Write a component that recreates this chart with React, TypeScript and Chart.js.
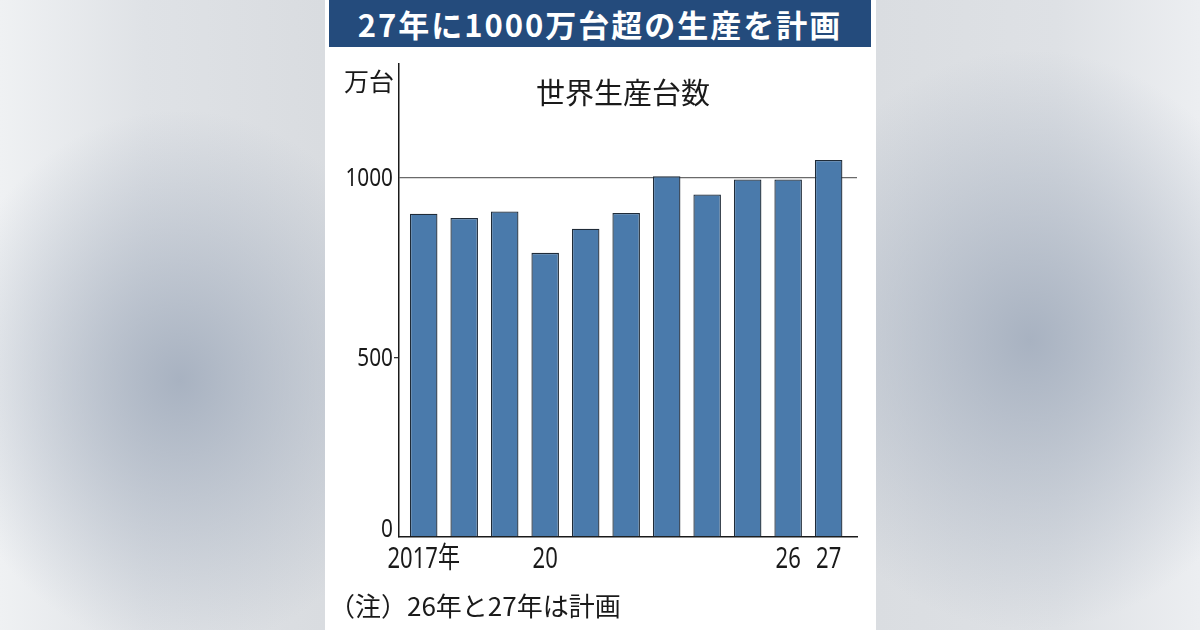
import React, { useEffect, useRef } from 'react';
import { Chart, registerables } from 'chart.js';

Chart.register(...registerables);

const years = ['2017', '2018', '2019', '2020', '2021', '2022', '2023', '2024', '2025', '2026', '2027'];
const production = [899, 887, 905, 790, 857, 901, 1003, 952, 994, 994, 1048];
const xTickLabels = ['2017年', '', '', '20', '', '', '', '', '', '26', '27'];
const xTickIndexes = [0, 3, 9, 10];
const yTickValues = [0, 500, 1000];

const titleText = '27年に1000万台超の生産を計画';
const subtitleText = '世界生産台数';
const unitText = '万台';
const noteText = '（注）26年と27年は計画';

const DIGITS = '"Noto Sans", "Noto Sans CJK JP", sans-serif';
const CJK = '"Noto Sans CJK JP", sans-serif';

const labelPlugin = {
  id: 'condensedLabels',
  afterDraw(chart: any) {
    const ys = chart.scales.y;
    const xs = chart.scales.x;
    const area = chart.chartArea;
    const ctx = chart.ctx;
    ctx.save();
    ctx.fillStyle = '#1a1a1a';
    // y labels
    ctx.font = '26px ' + DIGITS;
    ctx.textAlign = 'right';
    for (const t of ys.ticks) {
      const py = ys.getPixelForValue(t.value);
      ctx.save();
      if (t.value === 0) {
        ctx.textBaseline = 'alphabetic';
        ctx.translate(area.left - 6, py - 0.5);
      } else {
        ctx.textBaseline = 'middle';
        ctx.translate(area.left - 6, py + 1);
      }
      ctx.scale(0.8, 1);
      ctx.fillText(String(t.value), 0, 0);
      ctx.restore();
    }
    // x labels
    ctx.font = '29px ' + DIGITS;
    ctx.textAlign = 'center';
    ctx.textBaseline = 'alphabetic';
    for (const t of xs.ticks) {
      const label = years[t.value] !== undefined ? xTickLabels[t.value] : '';
      if (!label) continue;
      const px = xs.getPixelForValue(t.value);
      ctx.save();
      ctx.translate(px, area.bottom + 31);
      ctx.scale(0.76, 1);
      ctx.fillText(label, 0, 0);
      ctx.restore();
    }
    ctx.restore();
  },
};

function BarChart() {
  const ref = useRef<HTMLCanvasElement | null>(null);
  useEffect(() => {
    if (!ref.current) return;
    const chart = new Chart(ref.current, {
      type: 'bar',
      data: {
        labels: years,
        datasets: [
          {
            label: subtitleText,
            data: production.map((v, i) => ({ x: i, y: v })),
            backgroundColor: '#4a7aab',
            borderColor: '#1f2b38',
            borderWidth: 1.3,
            barPercentage: 0.68,
            categoryPercentage: 1,
          },
        ],
      },
      options: {
        responsive: false,
        animation: false,
        devicePixelRatio: 1,
        layout: { padding: { left: 0, right: 19, top: 17, bottom: 0 } },
        plugins: {
          legend: { display: false },
          tooltip: { enabled: false },
          title: { display: false },
        },
        scales: {
          x: {
            type: 'linear',
            min: -0.61,
            max: 10.7,
            offset: false,
            afterBuildTicks: (scale: any) => {
              scale.ticks = xTickIndexes.map((v) => ({ value: v }));
            },
            afterFit: (scale: any) => {
              scale.height = 93;
            },
            grid: { display: false, drawTicks: false },
            border: { display: true, color: '#1a1a1a', width: 1.5 },
            ticks: { display: false },
          },
          y: {
            min: 0,
            max: 1315,
            afterBuildTicks: (scale: any) => {
              scale.ticks = yTickValues.map((v) => ({ value: v }));
            },
            afterFit: (scale: any) => {
              scale.width = 74;
            },
            grid: {
              color: (c: any) => (c.tick && c.tick.value === 1000 ? '#6a6a6a' : 'rgba(0,0,0,0)'),
              tickColor: (c: any) => (c.tick && c.tick.value === 500 ? '#333333' : 'rgba(0,0,0,0)'),
              lineWidth: 1.3,
              tickLength: 5,
              drawTicks: true,
            },
            border: { display: true, color: '#1a1a1a', width: 1.5 },
            ticks: { display: false },
          },
        },
      },
      plugins: [labelPlugin],
    } as any);
    return () => chart.destroy();
  }, []);
  return <canvas ref={ref} width={551} height={583} style={{ display: 'block', width: 551, height: 583 }} />;
}

export default function App() {
  return (
    <div
      style={{
        position: 'absolute',
        left: 0,
        top: 0,
        width: 1200,
        height: 630,
        overflow: 'hidden',
        background:
          'radial-gradient(ellipse 240px 270px at 180px 380px, rgba(168,178,193,1) 0%, rgba(168,178,193,0) 100%),' +
          'radial-gradient(ellipse 260px 290px at 1030px 340px, rgba(168,178,193,1) 0%, rgba(168,178,193,0) 100%),' +
          'linear-gradient(90deg, #eff1f3 0%, #dfe2e6 12%, #d9dce0 27%, #dadde1 73%, #dee1e5 88%, #eceef1 100%)',
      }}
    >
      <div
        style={{
          position: 'absolute',
          left: 325,
          top: 0,
          width: 551,
          height: 630,
          background: '#ffffff',
        }}
      >
        <div
          style={{
            position: 'absolute',
            left: 4,
            top: 0,
            width: 542,
            height: 47,
            background: '#244b7c',
            color: '#ffffff',
            fontFamily: CJK,
            fontWeight: 700,
            fontSize: 31,
            letterSpacing: 2,
            lineHeight: '47px',
            textAlign: 'center',
            whiteSpace: 'nowrap',
          }}
        >
          {titleText}
        </div>
        <div style={{ position: 'absolute', left: 0, top: 47 }}>
          <BarChart />
        </div>
        <div
          style={{
            position: 'absolute',
            left: 5,
            top: 64,
            width: 64,
            textAlign: 'right',
            fontFamily: CJK,
            fontSize: 25,
            lineHeight: '32px',
            color: '#1a1a1a',
            whiteSpace: 'nowrap',
          }}
        >
          {unitText}
        </div>
        <div
          style={{
            position: 'absolute',
            left: 198,
            top: 72,
            width: 200,
            textAlign: 'center',
            fontFamily: CJK,
            fontSize: 29,
            lineHeight: '38px',
            color: '#1a1a1a',
            whiteSpace: 'nowrap',
          }}
        >
          {subtitleText}
        </div>
        <div
          style={{
            position: 'absolute',
            left: 4,
            top: 589,
            fontFamily: CJK,
            fontSize: 26,
            lineHeight: '32px',
            color: '#1a1a1a',
            whiteSpace: 'nowrap',
          }}
        >
          {noteText}
        </div>
      </div>
    </div>
  );
}
